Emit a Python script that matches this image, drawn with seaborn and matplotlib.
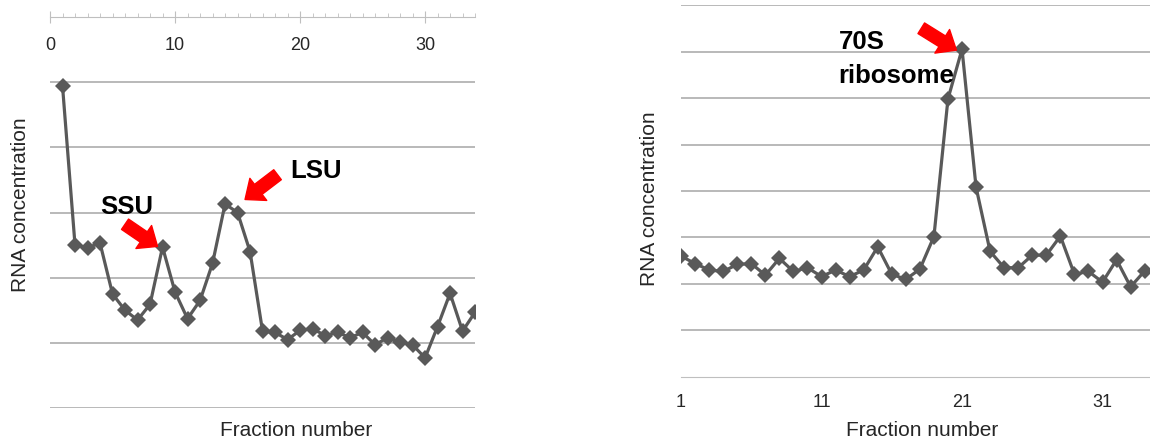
import numpy as np
import pandas as pd
import matplotlib
matplotlib.use('Agg')
import matplotlib.pyplot as plt
from matplotlib.ticker import MultipleLocator, FixedLocator
import seaborn as sns

# Left panel: subunit gradient profile
left_fraction = list(range(1, 35))
left_rna = [4.94, 2.50, 2.46, 2.53, 1.75, 1.50, 1.35, 1.59, 2.47, 1.78,
            1.37, 1.65, 2.22, 3.13, 3.00, 2.40, 1.18, 1.16, 1.05, 1.19,
            1.22, 1.11, 1.16, 1.08, 1.16, 0.97, 1.08, 1.01, 0.97, 0.77,
            1.25, 1.76, 1.18, 1.47]

# Right panel: 70S ribosome gradient profile
right_fraction = list(range(1, 35))
right_rna = [2.60, 2.44, 2.30, 2.27, 2.42, 2.44, 2.19, 2.55, 2.27, 2.35,
             2.16, 2.30, 2.16, 2.30, 2.80, 2.21, 2.10, 2.32, 3.02, 5.98,
             7.05, 4.08, 2.70, 2.35, 2.35, 2.62, 2.62, 3.03, 2.21, 2.27,
             2.04, 2.52, 1.94, 2.28]

left_df = pd.DataFrame({'Fraction': left_fraction, 'RNA': left_rna})
right_df = pd.DataFrame({'Fraction': right_fraction, 'RNA': right_rna})

sns.set_style('white')
plt.rcParams['font.family'] = ['Liberation Sans', 'DejaVu Sans']

line_color = '#595959'
fig = plt.figure(figsize=(11.5, 4.43), dpi=100)

# ---------- left panel ----------
ax1 = fig.add_axes([0.0435, 0.079, 0.3696, 0.8826])
sns.lineplot(data=left_df, x='Fraction', y='RNA', ax=ax1, color=line_color,
             linewidth=2.3, marker='D', markersize=8, markeredgewidth=0)
ax1.set_xlim(0, 34)
ax1.set_ylim(0, 6)
ax1.set_yticks([0, 1, 2, 3, 4, 5])
ax1.set_yticklabels([])
ax1.grid(axis='y', color='#a6a6a6', linewidth=1.1)
ax1.grid(axis='x', visible=False)
for s in ['left', 'right', 'bottom']:
    ax1.spines[s].set_visible(False)
ax1.spines['top'].set_color('#bfbfbf')
ax1.xaxis.tick_top()
ax1.xaxis.set_major_locator(MultipleLocator(10))
ax1.xaxis.set_minor_locator(MultipleLocator(1))
ax1.tick_params(axis='x', which='major', direction='inout', length=9,
                color='#bfbfbf', labelsize=13, pad=-31, labelcolor='#262626')
ax1.tick_params(axis='x', which='minor', direction='out', length=3,
                color='#bfbfbf')
ax1.tick_params(axis='y', length=0)
ax1.set_xlabel('Fraction number', fontsize=15, color='#262626')
ax1.xaxis.set_label_position('bottom')
ax1.xaxis.set_label_coords(0.579, -0.034)
ax1.set_ylabel('RNA concentration', fontsize=15, color='#262626')
ax1.yaxis.set_label_coords(-0.047, 0.52)

ax1.text(6.16, 3.08, 'SSU', fontsize=18.5, fontweight='bold', color='black',
         ha='center', va='center')
ax1.text(21.3, 3.63, 'LSU', fontsize=18.5, fontweight='bold', color='black',
         ha='center', va='center')
arrow = dict(arrowstyle='simple,head_length=0.6,head_width=1.0,tail_width=0.45',
             mutation_scale=20, color='red', shrinkA=0, shrinkB=0)
ax1.annotate('', xy=(8.6, 2.48), xytext=(6.0, 2.82), arrowprops=arrow)
ax1.annotate('', xy=(15.6, 3.2), xytext=(18.2, 3.58), arrowprops=arrow)

# ---------- right panel ----------
ax2 = fig.add_axes([0.5922, 0.149, 0.4078, 0.8397])
sns.lineplot(data=right_df, x='Fraction', y='RNA', ax=ax2, color=line_color,
             linewidth=2.3, marker='D', markersize=8, markeredgewidth=0)
ax2.set_xlim(1, 34.38)
ax2.set_ylim(0, 8)
ax2.set_yticks([1, 2, 3, 4, 5, 6, 7, 8])
ax2.set_yticklabels([])
ax2.grid(axis='y', color='#a6a6a6', linewidth=1.1)
ax2.grid(axis='x', visible=False)
for s in ['left', 'right', 'top']:
    ax2.spines[s].set_visible(False)
ax2.spines['bottom'].set_color('#bfbfbf')
ax2.xaxis.set_major_locator(FixedLocator([1, 11, 21, 31]))
ax2.xaxis.set_minor_locator(MultipleLocator(1))
ax2.tick_params(axis='x', which='both', direction='out', length=4,
                color='#bfbfbf')
ax2.tick_params(axis='x', which='major', labelsize=13, pad=8,
                labelcolor='#262626')
ax2.tick_params(axis='y', length=0)
ax2.set_xlabel('Fraction number', fontsize=15, color='#262626')
ax2.xaxis.set_label_coords(0.514, -0.118)
ax2.set_ylabel('RNA concentration', fontsize=15, color='#262626')
ax2.yaxis.set_label_coords(-0.047, 0.48)

ax2.text(12.2, 6.84, '70S\nribosome', fontsize=18.5, fontweight='bold',
         color='black', ha='left', va='center', linespacing=1.5)
ax2.annotate('', xy=(20.6, 7.03), xytext=(18.1, 7.5), arrowprops=arrow)

fig.savefig('out.png', dpi=100)
